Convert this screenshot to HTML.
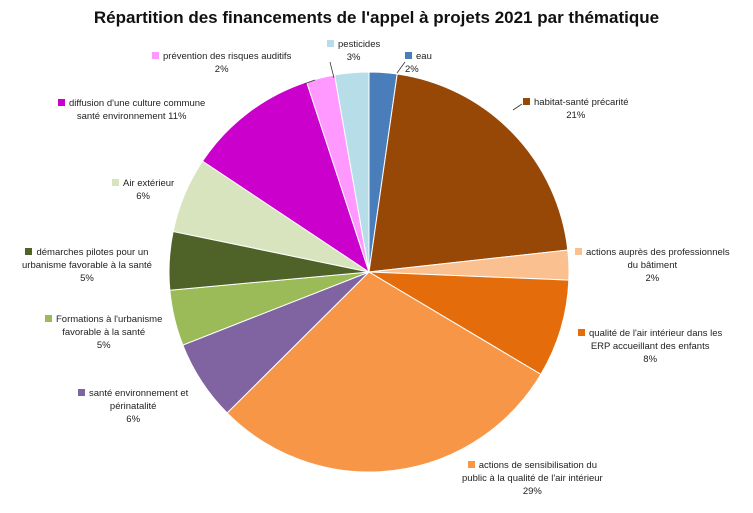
<!DOCTYPE html>
<html><head><meta charset="utf-8"><style>
body{margin:0;background:#fff;width:753px;height:513px;overflow:hidden;font-family:"Liberation Sans",sans-serif}
.lbl{position:absolute;font-size:9.5px;color:#222;text-align:center;line-height:13px}
.sw{display:inline-block;width:7px;height:7px;margin-right:4px;vertical-align:0}
</style></head><body>
<div id="chart" style="position:relative;width:753px;height:513px">
<div style="position:absolute;left:0;width:753px;top:8px;text-align:center;font-weight:bold;font-size:17px;color:#111">Répartition des financements de l'appel à projets 2021 par thématique</div>
<svg id="svg" width="753" height="513" style="position:absolute;left:0;top:0"></svg>
</div>
<script>
const categories=["eau","habitat-santé précarité","actions auprès des professionnels du bâtiment","qualité de l'air intérieur dans les ERP accueillant des enfants","actions de sensibilisation du public à la qualité de l'air intérieur","santé environnement et périnatalité","Formations à l'urbanisme favorable à la santé","démarches pilotes pour un urbanisme favorable à la santé","Air extérieur","diffusion d'une culture commune santé environnement","prévention des risques auditifs","pesticides"];
const values=[2.25,21,2.4,7.9,29,6.5,4.5,4.7,6.1,10.6,2.3,2.75];
const pctLabels=["2%","21%","2%","8%","29%","6%","5%","5%","6%","11%","2%","3%"];
const colors=["#4a7ebb","#974706","#fac090","#e46c0a","#f79646","#8064a2","#9bbb59","#4f6228","#d7e4bd","#cc00cc","#ff99ff","#b7dee8"];
const labelHtml=[
 ["eau<br>2%",405,50,"left"],
 ["habitat-santé précarité<br>21%",523,96,"center"],
 ["actions auprès des professionnels<br>du bâtiment<br>2%",575,246,"center"],
 ["qualité de l'air intérieur dans les<br>ERP accueillant des enfants<br>8%",578,327,"center"],
 ["actions de sensibilisation du<br>public à la qualité de l'air intérieur<br>29%",462,459,"center"],
 ["santé environnement et<br>périnatalité<br>6%",78,387,"center"],
 ["Formations à l'urbanisme<br>favorable à la santé<br>5%",45,313,"center"],
 ["démarches pilotes pour un<br>urbanisme favorable à la santé<br>5%",22,246,"center"],
 ["Air extérieur<br>6%",112,177,"center"],
 ["diffusion d'une culture commune<br>santé environnement 11%",58,97,"center"],
 ["prévention des risques auditifs<br>2%",152,50,"center"],
 ["pesticides<br>3%",327,38,"center"]];
const cx=369,cy=272,r=200;
const svg=document.getElementById('svg');
const NS="http://www.w3.org/2000/svg";
const total=values.reduce((a,b)=>a+b,0);
function pt(frac,rr){const a=frac*2*Math.PI;return [cx+rr*Math.sin(a),cy-rr*Math.cos(a)];}
let acc=0;
values.forEach((v,i)=>{
 const f0=acc/total,f1=(acc+v)/total;acc+=v;
 const [x0,y0]=pt(f0,r),[x1,y1]=pt(f1,r);
 const p=document.createElementNS(NS,'path');
 p.setAttribute('d',`M${cx},${cy}L${x0},${y0}A${r},${r} 0 ${f1-f0>0.5?1:0} 1 ${x1},${y1}Z`);
 p.setAttribute('fill',colors[i]);p.setAttribute('stroke','#fff');p.setAttribute('stroke-width','1');
 
 
 svg.appendChild(p);
});
const lines=[[397,73,405,62],[513,110,522,104],[304,84,315,80],[334,78,330,62]];
lines.forEach(l=>{const e=document.createElementNS(NS,'line');e.setAttribute('x1',l[0]);e.setAttribute('y1',l[1]);e.setAttribute('x2',l[2]);e.setAttribute('y2',l[3]);e.setAttribute('stroke','#333');e.setAttribute('stroke-width','0.8');


svg.appendChild(e);});
const chart=document.getElementById('chart');
labelHtml.forEach((l,i)=>{
 const d=document.createElement('div');d.className='lbl';
 
 
 d.style.left=l[1]+'px';d.style.top=l[2]+'px';d.style.textAlign=l[3];
 d.innerHTML='<span class="sw" style="background:'+colors[i]+'"></span>'+l[0];
 chart.appendChild(d);
});
</script>
</body></html>
